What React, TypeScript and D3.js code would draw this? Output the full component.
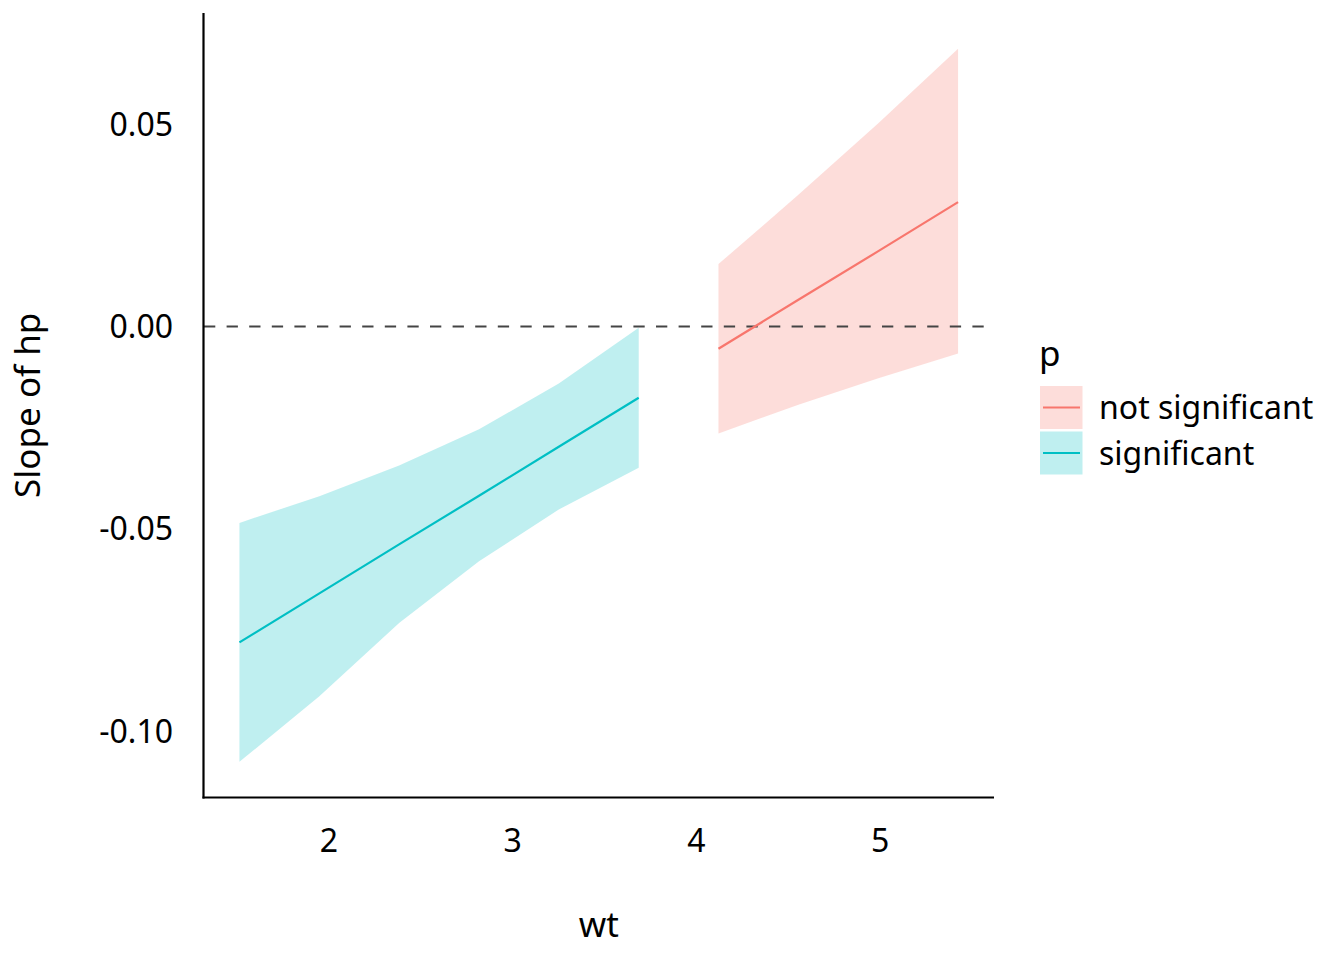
import React from "react";
import * as d3 from "d3";

// wt grid (10 points from min to max of wt)
const wtSig = [1.513, 1.948, 2.382, 2.817, 3.251, 3.686];
const slopeSig = [-0.078, -0.0659, -0.0538, -0.0418, -0.0297, -0.0176];
const lowerSig = [-0.1075, -0.0913, -0.0732, -0.058, -0.0452, -0.0349];
const upperSig = [-0.0485, -0.0419, -0.0343, -0.0254, -0.0141, -0.0003];

const wtNs = [4.12, 4.555, 4.99, 5.424];
const slopeNs = [-0.0055, 0.0066, 0.0186, 0.0307];
const lowerNs = [-0.0264, -0.0193, -0.0128, -0.0067];
const upperNs = [0.0154, 0.0325, 0.0502, 0.0686];

const xTicks = [2, 3, 4, 5];
const yTicks = [-0.1, -0.05, 0, 0.05];
const groups = ["not significant", "significant"];
const groupColors = ["#F8766D", "#00BFC4"];

const W = 1344;
const H = 960;
const panel = { left: 203.5, right: 994, top: 13, bottom: 797.5 };
const FONT = "'Noto Sans', sans-serif";

type Pt = { x: number; y: number; lo: number; hi: number };

function build(xs: number[], ys: number[], lo: number[], hi: number[]): Pt[] {
  return xs.map((x, i) => ({ x, y: ys[i], lo: lo[i], hi: hi[i] }));
}

export default function App() {
  const allX = [...wtSig, ...wtNs];
  const allY = [...lowerSig, ...upperSig, ...lowerNs, ...upperNs];
  const [x0, x1] = d3.extent(allX) as [number, number];
  const [y0, y1] = d3.extent(allY) as [number, number];
  const ex = (x1 - x0) * 0.05;
  const ey = (y1 - y0) * 0.05;

  const x = d3.scaleLinear().domain([x0 - ex, x1 + ex]).range([panel.left, panel.right]);
  const y = d3.scaleLinear().domain([y0 - ey, y1 + ey]).range([panel.bottom, panel.top]);

  const area = d3
    .area<Pt>()
    .x((d) => x(d.x))
    .y0((d) => y(d.lo))
    .y1((d) => y(d.hi));
  const line = d3
    .line<Pt>()
    .x((d) => x(d.x))
    .y((d) => y(d.y));

  const series = [
    { name: groups[0], color: groupColors[0], data: build(wtNs, slopeNs, lowerNs, upperNs) },
    { name: groups[1], color: groupColors[1], data: build(wtSig, slopeSig, lowerSig, upperSig) },
  ];

  const fmtY = (v: number) => (Math.abs(v) < 1e-9 ? "0.00" : d3.format(".2f")(v)).replace("−", "-");

  return (
    <svg width={W} height={H} style={{ display: "block", position: "absolute", left: 0, top: 0 }} fontFamily={FONT}>
      <rect width={W} height={H} fill="#fff" />
      {series.map((s) => (
        <path key={s.name + "a"} d={area(s.data) || ""} fill={s.color} fillOpacity={0.25} />
      ))}
      <line
        x1={panel.left}
        x2={panel.right}
        y1={y(0)}
        y2={y(0)}
        stroke="#444"
        strokeWidth={2.2}
        strokeDasharray="11.3 11.3"
        strokeDashoffset={-0.5}
      />
      {series.map((s) => (
        <path key={s.name + "l"} d={line(s.data) || ""} fill="none" stroke={s.color} strokeWidth={2.2} />
      ))}
      {/* axes */}
      <line x1={panel.left} x2={panel.left} y1={panel.top} y2={panel.bottom + 1} stroke="#000" strokeWidth={2.2} />
      <line x1={panel.left - 1} x2={panel.right} y1={panel.bottom} y2={panel.bottom} stroke="#000" strokeWidth={2.2} />
      {yTicks.map((t) => (
        <text key={t} x={173} y={y(t)} dy="0.36em" textAnchor="end" fontSize={32} fill="#000">
          {fmtY(t)}
        </text>
      ))}
      {xTicks.map((t) => (
        <text key={t} x={x(t)} y={852} textAnchor="middle" fontSize={32} fill="#000">
          {t}
        </text>
      ))}
      <text x={(panel.left + panel.right) / 2} y={937} textAnchor="middle" fontSize={35} fill="#000">
        wt
      </text>
      <text
        transform={`translate(40,${(panel.top + panel.bottom) / 2}) rotate(-90)`}
        textAnchor="middle"
        fontSize={35}
        fill="#000"
      >
        Slope of hp
      </text>
      {/* legend */}
      <text x={1039} y={366} fontSize={35} fill="#000">
        p
      </text>
      {series.map((s, i) => {
        const top = 386 + i * 45.5;
        return (
          <g key={s.name + "k"}>
            <rect x={1040} y={top} width={42.5} height={43} fill={s.color} fillOpacity={0.25} />
            <line x1={1043} x2={1080} y1={top + 21.5} y2={top + 21.5} stroke={s.color} strokeWidth={2.2} />
            <text x={1099} y={top + 21.5} dy="0.36em" fontSize={32} fill="#000">
              {s.name}
            </text>
          </g>
        );
      })}
    </svg>
  );
}
